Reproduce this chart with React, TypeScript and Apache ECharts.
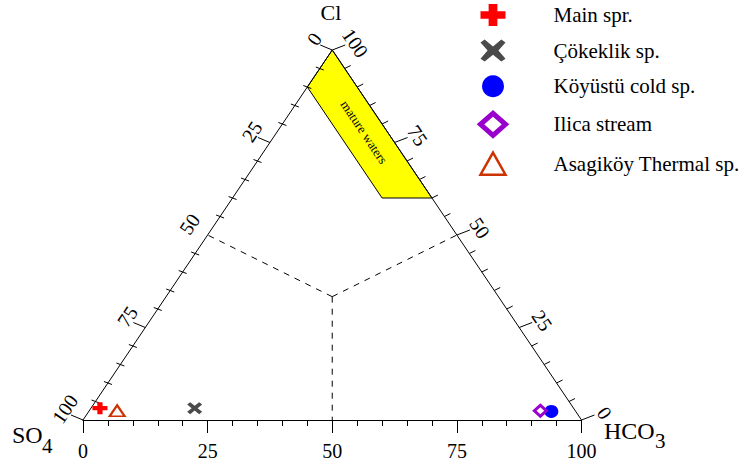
import React, { useEffect, useRef } from "react";
import * as echarts from "echarts";

// Samples in ternary percentages: [HCO3 %, Cl %]  (SO4 % = 100 - HCO3 - Cl)
const seriesNames = [
  "Main spr.",
  "Çökeklik sp.",
  "Köyüstü cold sp.",
  "Ilica stream",
  "Asagiköy Thermal sp.",
];
const mainSpr = [[1.8, 3.2]];
const cokeklik = [[20.8, 3.2]];
const koyustu = [[92.8, 2.3]];
const ilica = [[90.5, 2.5]];
const asagikoy = [[5.6, 2.5]];

// "mature waters" field, vertices as [HCO3 %, Cl %]
const matureField = [
  [0, 100],
  [40, 60],
  [30, 60],
  [0, 90],
];
const matureLabelAt = [17.5, 77.8];

// triangle corners [HCO3, Cl]: SO4, Cl, HCO3
const corners = [
  [0, 0],
  [0, 100],
  [100, 0],
];
// dashed divisions: centroid to the side midpoints
const centroid = [33.33, 33.33];
const sideMidpoints = [
  [50, 0],
  [0, 50],
  [50, 50],
];

// tick values along the slanted sides (percent)
const sideTickValues = [0, 5, 10, 15, 20, 25, 30, 35, 40, 45, 50, 55, 60, 65, 70, 75, 80, 85, 90, 95, 100];
const majorTickValues = [0, 25, 50, 75, 100];

const FONT = "'Liberation Serif', 'Times New Roman', serif";

const toXY = (p: number[]) => [p[0] + p[1] / 2, p[1]];

const PLUS = "path://M-1.05,-3H1.05V-1.05H3V1.05H1.05V3H-1.05V1.05H-3V-1.05H-1.05Z";
const CROSS =
  "path://M-3,-1.8L-1.8,-3L0,-1.2L1.8,-3L3,-1.8L1.2,0L3,1.8L1.8,3L0,1.2L-1.8,3L-3,1.8L-1.2,0Z";
const CROSS_LEGEND =
  "path://M-3,-2.2L-2,-3L0,-1.1L2,-3L3,-2.2L1.3,0L3,2.2L2,3L0,1.1L-2,3L-3,2.2L-1.3,0Z";

export default function App() {
  const ref = useRef<HTMLDivElement>(null);

  useEffect(() => {
    if (!ref.current) return;
    const chart = echarts.init(ref.current, undefined, { renderer: "svg" });

    // side ticks data: [x, y, side, value]; side 0 = left (SO4 scale), 1 = right (Cl scale)
    const tickData: number[][] = [];
    sideTickValues.forEach((v) => {
      const l = toXY([0, 100 - v]);
      tickData.push([l[0], l[1], 0, v]);
      const r = toXY([100 - v, v]);
      tickData.push([r[0], r[1], 1, v]);
    });

    const lineStyle = { stroke: "#000", lineWidth: 1 };

    const option: any = {
      animation: false,
      backgroundColor: "#fff",
      grid: { left: 83, top: 50, width: 498.5, height: 370 },
      xAxis: {
        type: "value",
        min: 0,
        max: 100,
        interval: 25,
        axisLine: { show: true, lineStyle: { color: "#000", width: 1 } },
        axisTick: { show: true, length: 13, lineStyle: { color: "#000", width: 1 } },
        minorTick: { show: true, splitNumber: 5, length: 6, lineStyle: { color: "#000", width: 1 } },
        splitLine: { show: false },
        axisLabel: { color: "#000", fontFamily: FONT, fontSize: 20, margin: 21 },
      },
      yAxis: { type: "value", min: 0, max: 100, show: false },
      legend: {
        orient: "vertical",
        left: 478,
        top: 4,
        padding: 0,
        itemWidth: 25,
        itemHeight: 22,
        itemGap: 13.6,
        symbolKeepAspect: false,
        data: [
          { name: seriesNames[0], icon: PLUS, itemStyle: { color: "#ff0000" } },
          { name: seriesNames[1], icon: CROSS_LEGEND, itemStyle: { color: "#4a4a4a" } },
          { name: seriesNames[2], icon: "circle", itemStyle: { color: "#0000ff" } },
          { name: seriesNames[3], icon: "diamond", itemStyle: { color: "#ffffff", borderColor: "#9900cc", borderWidth: 5 } },
          { name: seriesNames[4], icon: "triangle", itemStyle: { color: "#ffffff", borderColor: "#cc3300", borderWidth: 2.5 } },
        ],
        textStyle: { fontFamily: FONT, fontSize: 21, color: "#000", padding: [0, 0, 0, 43] },
      },
      graphic: [
        { type: "text", x: 331, y: 12, style: { text: "Cl", font: `22px ${FONT}`, fill: "#000", align: "center", verticalAlign: "middle" } },
        { type: "text", x: 12, y: 435, style: { text: "SO", font: `24px ${FONT}`, fill: "#000", align: "left", verticalAlign: "middle" } },
        { type: "text", x: 42, y: 446, style: { text: "4", font: `21px ${FONT}`, fill: "#000", align: "left", verticalAlign: "middle" } },
        { type: "text", x: 604, y: 431, style: { text: "HCO", font: `24px ${FONT}`, fill: "#000", align: "left", verticalAlign: "middle" } },
        { type: "text", x: 655, y: 441, style: { text: "3", font: `21px ${FONT}`, fill: "#000", align: "left", verticalAlign: "middle" } },
      ],
      series: [
        {
          type: "custom",
          name: "matureField",
          silent: true,
          z: 1,
          data: [[0]],
          renderItem: (params: any, api: any) => {
            const pts = matureField.map((p) => api.coord(toXY(p)));
            const lab = api.coord(toXY(matureLabelAt));
            return {
              type: "group",
              children: [
                { type: "polygon", shape: { points: pts }, style: { fill: "#ffff00", stroke: "#000", lineWidth: 1 } },
                {
                  type: "text",
                  x: lab[0],
                  y: lab[1],
                  rotation: -0.98,
                  style: { text: "mature waters", font: `13px ${FONT}`, fill: "#000", align: "center", verticalAlign: "middle" },
                },
              ],
            };
          },
        },
        {
          type: "line",
          name: "outline",
          silent: true,
          symbol: "none",
          z: 2,
          lineStyle: { color: "#000", width: 1 },
          data: corners.map(toXY),
        },
        {
          type: "lines",
          name: "divisions",
          coordinateSystem: "cartesian2d",
          silent: true,
          z: 2,
          lineStyle: { color: "#000", width: 1, type: [6, 6], opacity: 1 },
          data: sideMidpoints.map((m) => ({ coords: [toXY(centroid), toXY(m)] })),
        },
        {
          type: "custom",
          name: "sideTicks",
          silent: true,
          z: 3,
          encode: { x: 0, y: 1 },
          data: tickData,
          renderItem: (params: any, api: any) => {
            const p = api.coord([api.value(0), api.value(1)]);
            const side = api.value(2);
            const v = api.value(3);
            const major = majorTickValues.indexOf(v) >= 0;
            const children: any[] = [];
            if (side === 0) {
              if (major) {
                if (v !== 50) {
                  children.push({ type: "line", shape: { x1: p[0], y1: p[1], x2: p[0] - 12, y2: p[1] - 5 }, style: lineStyle });
                }
                children.push({
                  type: "text",
                  x: p[0] - 18,
                  y: p[1] - 11,
                  rotation: 0.98,
                  style: { text: String(v), font: `20px ${FONT}`, fill: "#000", align: "center", verticalAlign: "middle" },
                });
              } else {
                children.push({ type: "line", shape: { x1: p[0] - 4, y1: p[1] - 1.5, x2: p[0] + 4, y2: p[1] + 1.5 }, style: lineStyle });
              }
            } else {
              if (major) {
                children.push({ type: "line", shape: { x1: p[0], y1: p[1], x2: p[0] + 13, y2: p[1] - 5 }, style: lineStyle });
                children.push({
                  type: "text",
                  x: p[0] + 23,
                  y: p[1] - 7,
                  rotation: -0.98,
                  style: { text: String(v), font: `20px ${FONT}`, fill: "#000", align: "center", verticalAlign: "middle" },
                });
              } else {
                children.push({ type: "line", shape: { x1: p[0], y1: p[1], x2: p[0] + 6, y2: p[1] - 3 }, style: lineStyle });
              }
            }
            return { type: "group", children };
          },
        },
        {
          type: "scatter",
          name: seriesNames[0],
          z: 5,
          symbol: PLUS,
          symbolSize: [15, 12],
          itemStyle: { color: "#ff0000", opacity: 1 },
          data: mainSpr.map(toXY),
        },
        {
          type: "scatter",
          name: seriesNames[1],
          z: 5,
          symbol: CROSS,
          symbolSize: [15, 12],
          itemStyle: { color: "#4a4a4a", opacity: 1 },
          data: cokeklik.map(toXY),
        },
        {
          type: "scatter",
          name: seriesNames[2],
          z: 5,
          symbol: "circle",
          symbolSize: [14, 13],
          itemStyle: { color: "#0000ff", opacity: 1 },
          data: koyustu.map(toXY),
        },
        {
          type: "scatter",
          name: seriesNames[3],
          z: 6,
          symbol: "diamond",
          symbolSize: [12, 11],
          itemStyle: { color: "#ffffff", borderColor: "#9900cc", borderWidth: 3, opacity: 1 },
          data: ilica.map(toXY),
        },
        {
          type: "scatter",
          name: seriesNames[4],
          z: 5,
          symbol: "triangle",
          symbolSize: [15, 11],
          itemStyle: { color: "#ffffff", borderColor: "#cc3300", borderWidth: 2, opacity: 1 },
          data: asagikoy.map(toXY),
        },
      ],
    };

    chart.setOption(option);
    return () => chart.dispose();
  }, []);

  return (
    <div
      ref={ref}
      style={{ position: "fixed", left: 0, top: 0, width: 754, height: 465, background: "#fff" }}
    />
  );
}
